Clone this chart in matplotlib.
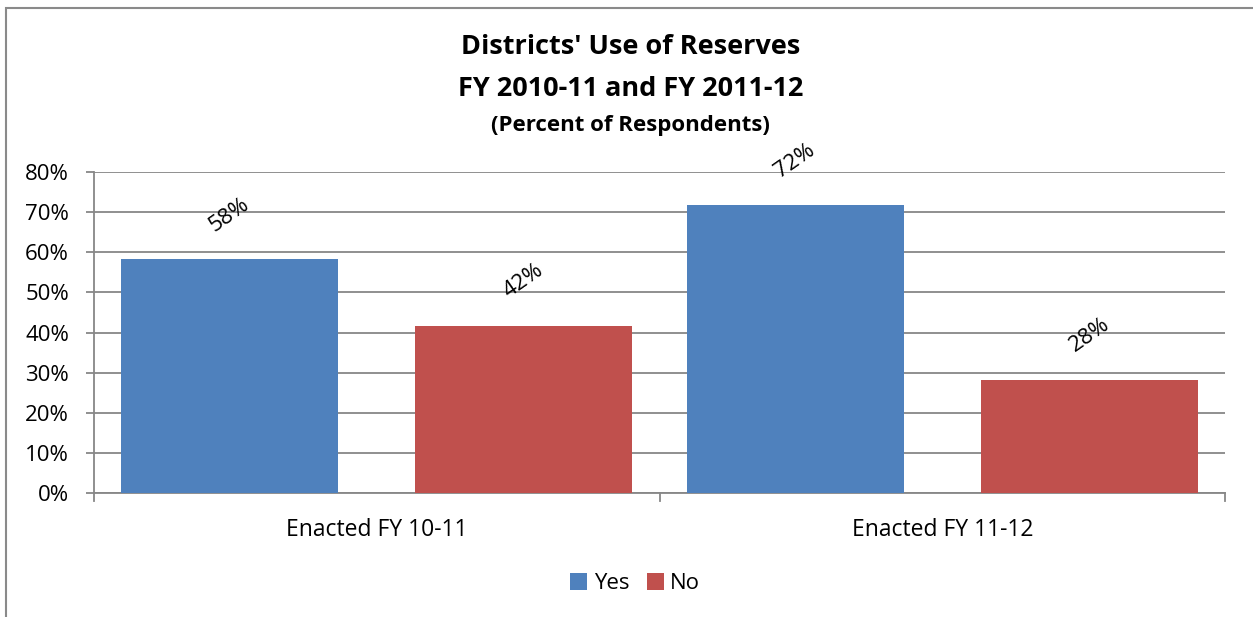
import matplotlib.pyplot as plt
import numpy as np
from matplotlib.patches import Rectangle

categories = ['Enacted FY 10-11', 'Enacted FY 11-12']
series_names = ['Yes', 'No']
yes_values = [58.3, 71.8]
no_values = [41.7, 28.2]
y_ticks = [0, 10, 20, 30, 40, 50, 60, 70, 80]

BLUE = '#4F81BD'
RED = '#C0504D'
GRID = '#878787'

plt.rcParams['font.family'] = ['Open Sans', 'DejaVu Sans']

fig = plt.figure(figsize=(12.53, 6.17), dpi=100)
ax = fig.add_axes([0.075, 0.201, 0.9027, 0.5202])

x = np.arange(len(categories))
width = 0.383
offset = 0.26
bars_yes = ax.bar(x - offset, yes_values, width, color=BLUE, label=series_names[0], zorder=3)
bars_no = ax.bar(x + offset, no_values, width, color=RED, label=series_names[1], zorder=3)

# value labels, tilted like the original sheet
for bars, vals in ((bars_yes, yes_values), (bars_no, no_values)):
    for b, v in zip(bars, vals):
        ax.annotate(f'{round(v):.0f}%', (b.get_x() + b.get_width() / 2, v),
                    xytext=(0, 32), textcoords='offset points',
                    ha='center', va='center', rotation=35, fontsize=16)

ax.set_xlim(-0.5, len(categories) - 0.5)
ax.set_ylim(0, 80)
ax.set_yticks(y_ticks)
ax.set_yticklabels([f'{t}%' for t in y_ticks], fontsize=16)
ax.yaxis.grid(True, color=GRID, linewidth=1.3, zorder=0)
ax.tick_params(axis='y', length=6, color=GRID, width=1.3, pad=12)

ax.set_xticks(x)
ax.set_xticklabels(categories, fontsize=16.5)
ax.tick_params(axis='x', length=0, pad=18)
for xb in np.arange(-0.5, len(categories), 1.0):
    ax.plot([xb, xb], [0, -2.0], color=GRID, linewidth=1.3, clip_on=False)

for side in ('top', 'right'):
    ax.spines[side].set_visible(False)
for side in ('left', 'bottom'):
    ax.spines[side].set_color(GRID)
    ax.spines[side].set_linewidth(1.3)

fig.text(0.503, 0.924, "Districts' Use of Reserves", ha='center', va='center',
         fontsize=19.5, fontweight='bold')
fig.text(0.503, 0.856, 'FY 2010-11 and FY 2011-12', ha='center', va='center',
         fontsize=19.5, fontweight='bold')
fig.text(0.503, 0.797, '(Percent of Respondents)', ha='center', va='center',
         fontsize=16, fontweight='bold')

fig.legend(handles=[bars_yes, bars_no], labels=series_names, loc='center',
           bbox_to_anchor=(0.507, 0.054), ncol=2, frameon=False, fontsize=16,
           handlelength=0.75, handleheight=0.75, handletextpad=0.3, columnspacing=0.8)

# outer chart frame
fig.patches.append(Rectangle((6 / 1253, -0.1), 1.2, 1.1 - 8 / 617, transform=fig.transFigure,
                             fill=False, edgecolor='#8a8a8a', linewidth=1.5))

fig.savefig('out.png', dpi=100)
